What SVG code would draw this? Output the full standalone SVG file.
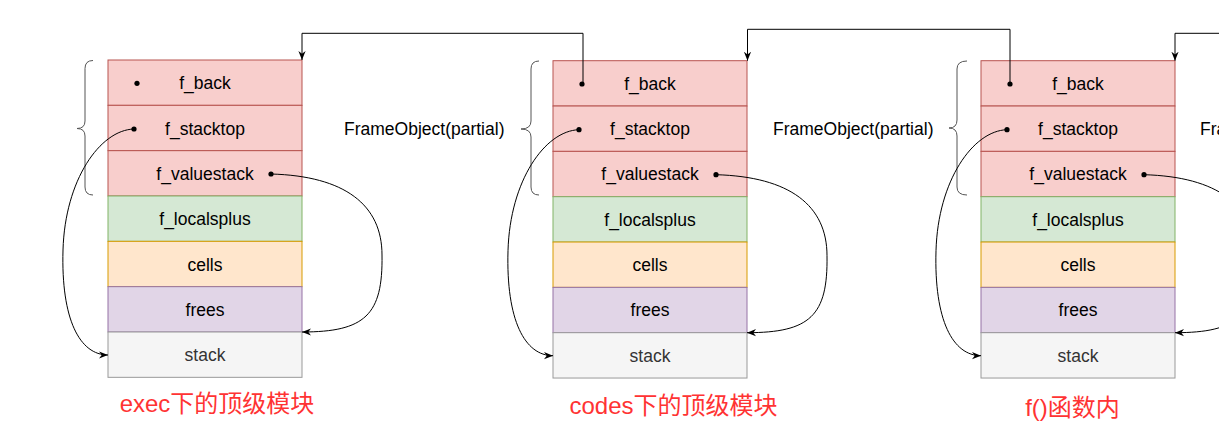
<svg xmlns="http://www.w3.org/2000/svg" width="1219" height="436" viewBox="0 0 1219 436">
<style>
.t{font-family:"Liberation Sans",Arial,sans-serif;font-size:17.5px;fill:#000;text-anchor:middle}
.lbl{font-family:"Liberation Sans",Arial,sans-serif;font-size:17.5px;fill:#000}
.red{font-family:"Liberation Sans","Noto Sans CJK SC",sans-serif;font-size:24px;fill:#FF3333;text-anchor:middle}
.pk{fill:#f8cecc;stroke:#b85450;stroke-width:1}
.gn{fill:#d5e8d4;stroke:#82b366;stroke-width:1}
.or{fill:#ffe6cc;stroke:#d79b00;stroke-width:1}
.pu{fill:#e1d5e7;stroke:#9673a6;stroke-width:1}
.gy{fill:#f5f5f5;stroke:#999999;stroke-width:1}
.gyt{fill:#333333}
.dot{fill:#000}
.br{fill:none;stroke:#555;stroke-width:1}
.c{fill:none;stroke:#000;stroke-width:1}
</style>
<defs>
<marker id="arr" viewBox="0 0 10 10" refX="10" refY="5" markerWidth="9" markerHeight="9" markerUnits="userSpaceOnUse" orient="auto">
<path d="M0,1 L10,5 L0,9 L3,5 z" fill="#000"/>
</marker>
<g id="stk">
<g><rect class="pk" x="0" y="0" width="194" height="45.33"/><text class="t" x="97" y="29">f_back</text></g>
<g><rect class="pk" x="0" y="45.33" width="194" height="45.33"/><text class="t" x="97" y="74.5">f_stacktop</text></g>
<g><rect class="pk" x="0" y="90.67" width="194" height="45.33"/><text class="t" x="97" y="119.8">f_valuestack</text></g>
<g><rect class="gn" x="0" y="136" width="194" height="45.33"/><text class="t" x="97" y="165">f_localsplus</text></g>
<g><rect class="or" x="0" y="181.33" width="194" height="45.33"/><text class="t" x="97" y="210.5">cells</text></g>
<g><rect class="pu" x="0" y="226.67" width="194" height="45.33"/><text class="t" x="97" y="255.8">frees</text></g>
<g><rect class="gy" x="0" y="272" width="194" height="45.33"/><text class="t gyt" x="97" y="301">stack</text></g>
<circle class="dot" cx="29" cy="23.3" r="2.6"/>
<circle class="dot" cx="26" cy="69" r="2.6"/>
<circle class="dot" cx="163" cy="114" r="2.6"/>
</g>
</defs>

<g id="frame1" transform="translate(108,60)"><use href="#stk"/></g>
<g id="frame2" transform="translate(553,60.7)"><use href="#stk"/></g>
<g id="frame3" transform="translate(981,60.7)"><use href="#stk"/></g>

<g id="brace1"><path class="br" d="M93,60.5 Q85,60.5 85,68.5 L85,121 Q85,128.5 77,128.5 Q85,128.5 85,136 L85,187 Q85,195 93,195"/></g>
<g id="brace2"><path class="br" d="M539,61 Q531,61 531,69 L531,121 Q531,129 521,129 Q531,129 531,137 L531,187 Q531,195 539,195"/></g>
<g id="brace3"><path class="br" d="M967,61 Q957,61 957,69 L957,120 Q957,128 949,128 Q957,128 957,136 L957,187 Q957,195 967,195"/></g>

<g id="label1"><text class="lbl" x="344" y="135">FrameObject(partial)</text></g>
<g id="label2"><text class="lbl" x="773" y="135">FrameObject(partial)</text></g>
<g id="label3"><text class="lbl" x="1200" y="135">FrameObject(partial)</text></g>

<g id="cap1"><text class="red" x="217" y="412">exec下的顶级模块</text></g>
<g id="cap2"><text class="red" x="673.5" y="414">codes下的顶级模块</text></g>
<g id="cap3"><text class="red" x="1072.5" y="416">f()函数内</text></g>

<g id="connectors">
<path class="c" d="M583,83.5 L583,33.3 L302,33.3 L302,60" marker-end="url(#arr)"/>
<path class="c" d="M1010,83.5 L1010,29.3 L747.5,29.3 L747.5,60.7" marker-end="url(#arr)"/>
<path class="c" d="M1219,33.3 L1175,33.3 L1175,60.7" marker-end="url(#arr)"/>

<path class="c" d="M134,129 C100,130 65,180 63,250 C61,320 80,355 108,355" marker-end="url(#arr)"/>
<path class="c" d="M271,174 C345,176 382,205 382,255 C383,315 365,332 302,332" marker-end="url(#arr)"/>

<path class="c" d="M579,129.7 C545,130.7 510,180.7 508,250.7 C506,320.7 525,355.7 553,355.7" marker-end="url(#arr)"/>
<path class="c" d="M716,174.7 C790,176.7 827,205.7 827,255.7 C828,315.7 810,332.7 747,332.7" marker-end="url(#arr)"/>

<path class="c" d="M1007,129.7 C973,130.7 938,180.7 936,250.7 C934,320.7 953,355.7 981,355.7" marker-end="url(#arr)"/>
<path class="c" d="M1144,174.7 C1218,176.7 1255,205.7 1255,255.7 C1256,315.7 1238,332.7 1175,332.7" marker-end="url(#arr)"/>
</g>
</svg>
